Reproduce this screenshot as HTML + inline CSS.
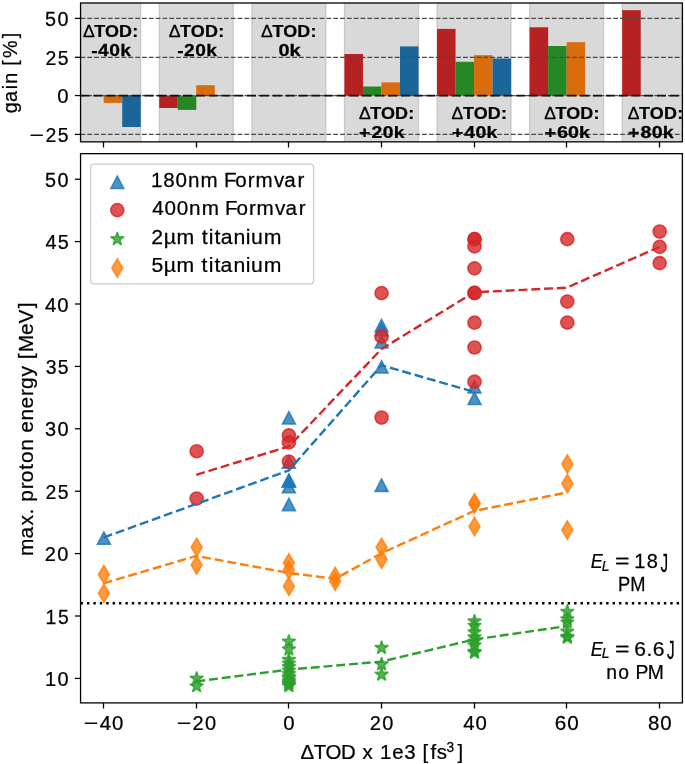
<!DOCTYPE html><html><head><meta charset="utf-8"><style>html,body{margin:0;padding:0;background:#fff;}svg{display:block;}text{font-family:"Liberation Sans",sans-serif;fill:#000;stroke:#000;stroke-width:0.25px;}text{filter:grayscale(1);}</style></head><body>
<svg width="685" height="764" viewBox="0 0 685 764">
<rect width="685" height="764" fill="#fff"/>
<defs><clipPath id="ct"><rect x="80.55" y="3.0" width="601.85" height="138.85"/></clipPath><clipPath id="cb"><rect x="80.55" y="153.66" width="601.85" height="549.24"/></clipPath></defs>
<g clip-path="url(#ct)">
<rect x="66.66" y="-5" width="74.07" height="160" fill="#808080" fill-opacity="0.3" stroke="#808080" stroke-opacity="0.3" stroke-width="1.3"/>
<rect x="159.25" y="-5" width="74.07" height="160" fill="#808080" fill-opacity="0.3" stroke="#808080" stroke-opacity="0.3" stroke-width="1.3"/>
<rect x="251.85" y="-5" width="74.07" height="160" fill="#808080" fill-opacity="0.3" stroke="#808080" stroke-opacity="0.3" stroke-width="1.3"/>
<rect x="344.44" y="-5" width="74.07" height="160" fill="#808080" fill-opacity="0.3" stroke="#808080" stroke-opacity="0.3" stroke-width="1.3"/>
<rect x="437.03" y="-5" width="74.07" height="160" fill="#808080" fill-opacity="0.3" stroke="#808080" stroke-opacity="0.3" stroke-width="1.3"/>
<rect x="529.62" y="-5" width="74.07" height="160" fill="#808080" fill-opacity="0.3" stroke="#808080" stroke-opacity="0.3" stroke-width="1.3"/>
<rect x="622.21" y="-5" width="74.07" height="160" fill="#808080" fill-opacity="0.3" stroke="#808080" stroke-opacity="0.3" stroke-width="1.3"/>
<rect x="103.70" y="95.55" width="18.52" height="7.35" fill="#d96c0c"/>
<rect x="122.22" y="95.55" width="18.52" height="31.45" fill="#1a6599"/>
<rect x="159.25" y="95.55" width="18.52" height="12.45" fill="#b62122"/>
<rect x="177.77" y="95.55" width="18.52" height="14.35" fill="#258825"/>
<rect x="196.29" y="85.20" width="18.52" height="10.35" fill="#d96c0c"/>
<rect x="344.44" y="54.00" width="18.52" height="41.55" fill="#b62122"/>
<rect x="362.96" y="86.50" width="18.52" height="9.05" fill="#258825"/>
<rect x="381.47" y="82.40" width="18.52" height="13.15" fill="#d96c0c"/>
<rect x="399.99" y="46.40" width="18.52" height="49.15" fill="#1a6599"/>
<rect x="437.03" y="28.90" width="18.52" height="66.65" fill="#b62122"/>
<rect x="455.55" y="61.80" width="18.52" height="33.75" fill="#258825"/>
<rect x="474.07" y="55.20" width="18.52" height="40.35" fill="#d96c0c"/>
<rect x="492.58" y="58.50" width="18.52" height="37.05" fill="#1a6599"/>
<rect x="529.62" y="27.30" width="18.52" height="68.25" fill="#b62122"/>
<rect x="548.14" y="46.00" width="18.52" height="49.55" fill="#258825"/>
<rect x="566.66" y="42.20" width="18.52" height="53.35" fill="#d96c0c"/>
<rect x="622.21" y="10.20" width="18.52" height="85.35" fill="#b62122"/>
<line x1="80.55" y1="18.4" x2="682.4" y2="18.4" stroke="#4a4a4a" stroke-width="1.29" stroke-dasharray="4.77 2.06"/>
<line x1="80.55" y1="57.3" x2="682.4" y2="57.3" stroke="#4a4a4a" stroke-width="1.29" stroke-dasharray="4.77 2.06"/>
<line x1="80.55" y1="95.55" x2="682.4" y2="95.55" stroke="#4a4a4a" stroke-width="1.29" stroke-dasharray="4.77 2.06"/>
<line x1="80.55" y1="134.4" x2="682.4" y2="134.4" stroke="#4a4a4a" stroke-width="1.29" stroke-dasharray="4.77 2.06"/>
<line x1="80.55" y1="95.55" x2="682.4" y2="95.55" stroke="#111" stroke-width="1.8" stroke-dasharray="8.94 3.87"/>
<text transform="translate(83.40 36.90) scale(1.0415 1.0000)" x="-0.50" y="0" font-size="16.88">Δ</text>
<text transform="translate(94.30 36.90) scale(1.0626 1.0000)" x="-0.10 10.04 23.24 35.70" y="0" font-size="16.88" font-weight="bold">TOD:</text>
<text transform="translate(92.10 55.70) scale(1.1422 1.0000)" x="-0.65 5.14 14.99 24.64" y="0" font-size="16.88" font-weight="bold">-40k</text>
<text transform="translate(169.30 36.90) scale(1.0415 1.0000)" x="-0.50" y="0" font-size="16.88">Δ</text>
<text transform="translate(180.20 36.90) scale(1.0626 1.0000)" x="-0.10 10.04 23.24 35.70" y="0" font-size="16.88" font-weight="bold">TOD:</text>
<text transform="translate(178.00 55.70) scale(1.1367 1.0000)" x="-0.64 5.27 15.09 24.78" y="0" font-size="16.88" font-weight="bold">-20k</text>
<text transform="translate(261.60 36.90) scale(1.0415 1.0000)" x="-0.50" y="0" font-size="16.88">Δ</text>
<text transform="translate(272.50 36.90) scale(1.0626 1.0000)" x="-0.10 10.04 23.24 35.70" y="0" font-size="16.88" font-weight="bold">TOD:</text>
<text transform="translate(279.30 55.70) scale(1.1815 1.0000)" x="-0.62 8.68" y="0" font-size="16.88" font-weight="bold">0k</text>
<text transform="translate(359.40 119.30) scale(1.0415 1.0000)" x="-0.50" y="0" font-size="16.88">Δ</text>
<text transform="translate(370.30 119.30) scale(1.0626 1.0000)" x="-0.10 10.04 23.24 35.70" y="0" font-size="16.88" font-weight="bold">TOD:</text>
<text transform="translate(359.70 137.70) scale(1.1477 1.0000)" x="-0.58 10.35 20.07 29.67" y="0" font-size="16.88" font-weight="bold">+20k</text>
<text transform="translate(452.10 119.30) scale(1.0415 1.0000)" x="-0.50" y="0" font-size="16.88">Δ</text>
<text transform="translate(463.00 119.30) scale(1.0626 1.0000)" x="-0.10 10.04 23.24 35.70" y="0" font-size="16.88" font-weight="bold">TOD:</text>
<text transform="translate(452.60 137.70) scale(1.1522 1.0000)" x="-0.59 10.21 19.98 29.53" y="0" font-size="16.88" font-weight="bold">+40k</text>
<text transform="translate(544.70 119.30) scale(1.0415 1.0000)" x="-0.50" y="0" font-size="16.88">Δ</text>
<text transform="translate(555.60 119.30) scale(1.0626 1.0000)" x="-0.10 10.04 23.24 35.70" y="0" font-size="16.88" font-weight="bold">TOD:</text>
<text transform="translate(545.20 137.70) scale(1.1710 1.0000)" x="-0.66 10.11 19.58 28.97" y="0" font-size="16.88" font-weight="bold">+60k</text>
<text transform="translate(628.30 119.30) scale(1.0415 1.0000)" x="-0.50" y="0" font-size="16.88">Δ</text>
<text transform="translate(639.20 119.30) scale(1.0626 1.0000)" x="-0.10 10.04 23.24 35.70" y="0" font-size="16.88" font-weight="bold">TOD:</text>
<text transform="translate(628.80 137.70) scale(1.1613 1.0000)" x="-0.63 10.17 19.78 29.26" y="0" font-size="16.88" font-weight="bold">+80k</text>
</g>
<rect x="80.55" y="3.0" width="601.85" height="138.85" fill="none" stroke="#000" stroke-width="1.29"/>
<line x1="74.91" y1="18.4" x2="80.55" y2="18.4" stroke="#000" stroke-width="1.29"/>
<text transform="translate(67.80 26.00) scale(0.9712 1.0000)" x="-23.43 -10.69" y="0" font-size="20.39">50</text>
<line x1="74.91" y1="57.3" x2="80.55" y2="57.3" stroke="#000" stroke-width="1.29"/>
<text transform="translate(67.80 64.90) scale(0.9528 1.0000)" x="-23.53 -10.44" y="0" font-size="20.39">25</text>
<line x1="74.91" y1="95.55" x2="80.55" y2="95.55" stroke="#000" stroke-width="1.29"/>
<text transform="translate(67.80 103.15) scale(0.9992 1.0000)" x="-10.55" y="0" font-size="20.39">0</text>
<line x1="74.91" y1="134.4" x2="80.55" y2="134.4" stroke="#000" stroke-width="1.29"/>
<text transform="translate(30.74 142.00) scale(1.2213 1.0000)" x="-1.01" y="0" font-size="20.39">−</text>
<text transform="translate(46.31 142.00) scale(0.9528 1.0000)" x="-0.98 12.12" y="0" font-size="20.39">25</text>
<line x1="103.50" y1="141.85" x2="103.50" y2="147.49" stroke="#000" stroke-width="1.29"/>
<line x1="196.50" y1="141.85" x2="196.50" y2="147.49" stroke="#000" stroke-width="1.29"/>
<line x1="288.50" y1="141.85" x2="288.50" y2="147.49" stroke="#000" stroke-width="1.29"/>
<line x1="381.50" y1="141.85" x2="381.50" y2="147.49" stroke="#000" stroke-width="1.29"/>
<line x1="474.50" y1="141.85" x2="474.50" y2="147.49" stroke="#000" stroke-width="1.29"/>
<line x1="566.50" y1="141.85" x2="566.50" y2="147.49" stroke="#000" stroke-width="1.29"/>
<line x1="659.50" y1="141.85" x2="659.50" y2="147.49" stroke="#000" stroke-width="1.29"/>
<text transform="translate(17.20 112.80) rotate(-90) scale(0.9694 1)" x="-0.57 11.26 24.29 30.01 41.96 48.59 56.48 76.84" y="0" font-size="20.39">gain [%]</text>
<g clip-path="url(#cb)">
<path d="M103.90 531.90L97.45 544.20L110.35 544.20Z" fill="#1f77b4" fill-opacity="0.8" stroke="#1f77b4" stroke-opacity="0.8" stroke-width="1.61"/>
<path d="M288.88 411.69L282.43 423.99L295.33 423.99Z" fill="#1f77b4" fill-opacity="0.8" stroke="#1f77b4" stroke-opacity="0.8" stroke-width="1.61"/>
<path d="M288.88 455.88L282.43 468.18L295.33 468.18Z" fill="#1f77b4" fill-opacity="0.8" stroke="#1f77b4" stroke-opacity="0.8" stroke-width="1.61"/>
<path d="M288.88 474.10L282.43 486.40L295.33 486.40Z" fill="#1f77b4" fill-opacity="0.8" stroke="#1f77b4" stroke-opacity="0.8" stroke-width="1.61"/>
<path d="M288.88 474.85L282.43 487.15L295.33 487.15Z" fill="#1f77b4" fill-opacity="0.8" stroke="#1f77b4" stroke-opacity="0.8" stroke-width="1.61"/>
<path d="M288.88 480.47L282.43 492.77L295.33 492.77Z" fill="#1f77b4" fill-opacity="0.8" stroke="#1f77b4" stroke-opacity="0.8" stroke-width="1.61"/>
<path d="M288.88 498.32L282.43 510.62L295.33 510.62Z" fill="#1f77b4" fill-opacity="0.8" stroke="#1f77b4" stroke-opacity="0.8" stroke-width="1.61"/>
<path d="M381.57 319.44L375.12 331.74L388.02 331.74Z" fill="#1f77b4" fill-opacity="0.8" stroke="#1f77b4" stroke-opacity="0.8" stroke-width="1.61"/>
<path d="M381.57 323.31L375.12 335.61L388.02 335.61Z" fill="#1f77b4" fill-opacity="0.8" stroke="#1f77b4" stroke-opacity="0.8" stroke-width="1.61"/>
<path d="M381.57 335.67L375.12 347.97L388.02 347.97Z" fill="#1f77b4" fill-opacity="0.8" stroke="#1f77b4" stroke-opacity="0.8" stroke-width="1.61"/>
<path d="M381.57 360.76L375.12 373.06L388.02 373.06Z" fill="#1f77b4" fill-opacity="0.8" stroke="#1f77b4" stroke-opacity="0.8" stroke-width="1.61"/>
<path d="M381.57 479.10L375.12 491.40L388.02 491.40Z" fill="#1f77b4" fill-opacity="0.8" stroke="#1f77b4" stroke-opacity="0.8" stroke-width="1.61"/>
<path d="M474.52 380.61L468.07 392.91L480.97 392.91Z" fill="#1f77b4" fill-opacity="0.8" stroke="#1f77b4" stroke-opacity="0.8" stroke-width="1.61"/>
<path d="M474.52 392.22L468.07 404.52L480.97 404.52Z" fill="#1f77b4" fill-opacity="0.8" stroke="#1f77b4" stroke-opacity="0.8" stroke-width="1.61"/>
<circle cx="196.64" cy="451.24" r="6.55" fill="#d62728" fill-opacity="0.8" stroke="#d62728" stroke-opacity="0.8" stroke-width="1.61"/>
<circle cx="196.64" cy="498.55" r="6.55" fill="#d62728" fill-opacity="0.8" stroke="#d62728" stroke-opacity="0.8" stroke-width="1.61"/>
<circle cx="288.88" cy="435.39" r="6.55" fill="#d62728" fill-opacity="0.8" stroke="#d62728" stroke-opacity="0.8" stroke-width="1.61"/>
<circle cx="288.88" cy="442.38" r="6.55" fill="#d62728" fill-opacity="0.8" stroke="#d62728" stroke-opacity="0.8" stroke-width="1.61"/>
<circle cx="288.88" cy="461.60" r="6.55" fill="#d62728" fill-opacity="0.8" stroke="#d62728" stroke-opacity="0.8" stroke-width="1.61"/>
<circle cx="381.57" cy="293.08" r="6.55" fill="#d62728" fill-opacity="0.8" stroke="#d62728" stroke-opacity="0.8" stroke-width="1.61"/>
<circle cx="381.57" cy="336.65" r="6.55" fill="#d62728" fill-opacity="0.8" stroke="#d62728" stroke-opacity="0.8" stroke-width="1.61"/>
<circle cx="381.57" cy="417.54" r="6.55" fill="#d62728" fill-opacity="0.8" stroke="#d62728" stroke-opacity="0.8" stroke-width="1.61"/>
<circle cx="474.52" cy="239.16" r="6.55" fill="#d62728" fill-opacity="0.8" stroke="#d62728" stroke-opacity="0.8" stroke-width="1.61"/>
<circle cx="474.52" cy="239.16" r="6.55" fill="#d62728" fill-opacity="0.8" stroke="#d62728" stroke-opacity="0.8" stroke-width="1.61"/>
<circle cx="474.52" cy="246.40" r="6.55" fill="#d62728" fill-opacity="0.8" stroke="#d62728" stroke-opacity="0.8" stroke-width="1.61"/>
<circle cx="474.52" cy="268.37" r="6.55" fill="#d62728" fill-opacity="0.8" stroke="#d62728" stroke-opacity="0.8" stroke-width="1.61"/>
<circle cx="474.52" cy="292.96" r="6.55" fill="#d62728" fill-opacity="0.8" stroke="#d62728" stroke-opacity="0.8" stroke-width="1.61"/>
<circle cx="474.52" cy="292.96" r="6.55" fill="#d62728" fill-opacity="0.8" stroke="#d62728" stroke-opacity="0.8" stroke-width="1.61"/>
<circle cx="474.52" cy="322.67" r="6.55" fill="#d62728" fill-opacity="0.8" stroke="#d62728" stroke-opacity="0.8" stroke-width="1.61"/>
<circle cx="474.52" cy="347.51" r="6.55" fill="#d62728" fill-opacity="0.8" stroke="#d62728" stroke-opacity="0.8" stroke-width="1.61"/>
<circle cx="474.52" cy="381.71" r="6.55" fill="#d62728" fill-opacity="0.8" stroke="#d62728" stroke-opacity="0.8" stroke-width="1.61"/>
<circle cx="567.31" cy="239.16" r="6.55" fill="#d62728" fill-opacity="0.8" stroke="#d62728" stroke-opacity="0.8" stroke-width="1.61"/>
<circle cx="567.31" cy="301.57" r="6.55" fill="#d62728" fill-opacity="0.8" stroke="#d62728" stroke-opacity="0.8" stroke-width="1.61"/>
<circle cx="567.31" cy="322.54" r="6.55" fill="#d62728" fill-opacity="0.8" stroke="#d62728" stroke-opacity="0.8" stroke-width="1.61"/>
<circle cx="659.65" cy="231.54" r="6.55" fill="#d62728" fill-opacity="0.8" stroke="#d62728" stroke-opacity="0.8" stroke-width="1.61"/>
<circle cx="659.65" cy="246.90" r="6.55" fill="#d62728" fill-opacity="0.8" stroke="#d62728" stroke-opacity="0.8" stroke-width="1.61"/>
<circle cx="659.65" cy="263.12" r="6.55" fill="#d62728" fill-opacity="0.8" stroke="#d62728" stroke-opacity="0.8" stroke-width="1.61"/>
<path d="M196.64 671.51L195.06 676.38L189.94 676.38L194.08 679.39L192.50 684.26L196.64 681.25L200.78 684.26L199.20 679.39L203.34 676.38L198.22 676.38Z" fill="#2ca02c" fill-opacity="0.8" stroke="#2ca02c" stroke-opacity="0.8" stroke-width="1.61" stroke-linejoin="bevel"/>
<path d="M196.64 679.12L195.06 683.99L189.94 683.99L194.08 687.00L192.50 691.88L196.64 688.87L200.78 691.88L199.20 687.00L203.34 683.99L198.22 683.99Z" fill="#2ca02c" fill-opacity="0.8" stroke="#2ca02c" stroke-opacity="0.8" stroke-width="1.61" stroke-linejoin="bevel"/>
<path d="M288.88 634.43L287.30 639.31L282.18 639.31L286.32 642.32L284.74 647.19L288.88 644.18L293.03 647.19L291.44 642.32L295.59 639.31L290.46 639.31Z" fill="#2ca02c" fill-opacity="0.8" stroke="#2ca02c" stroke-opacity="0.8" stroke-width="1.61" stroke-linejoin="bevel"/>
<path d="M288.88 642.30L287.30 647.17L282.18 647.17L286.32 650.18L284.74 655.05L288.88 652.04L293.03 655.05L291.44 650.18L295.59 647.17L290.46 647.17Z" fill="#2ca02c" fill-opacity="0.8" stroke="#2ca02c" stroke-opacity="0.8" stroke-width="1.61" stroke-linejoin="bevel"/>
<path d="M288.88 652.66L287.30 657.53L282.18 657.53L286.32 660.54L284.74 665.41L288.88 662.40L293.03 665.41L291.44 660.54L295.59 657.53L290.46 657.53Z" fill="#2ca02c" fill-opacity="0.8" stroke="#2ca02c" stroke-opacity="0.8" stroke-width="1.61" stroke-linejoin="bevel"/>
<path d="M288.88 656.53L287.30 661.40L282.18 661.40L286.32 664.41L284.74 669.28L288.88 666.27L293.03 669.28L291.44 664.41L295.59 661.40L290.46 661.40Z" fill="#2ca02c" fill-opacity="0.8" stroke="#2ca02c" stroke-opacity="0.8" stroke-width="1.61" stroke-linejoin="bevel"/>
<path d="M288.88 659.90L287.30 664.77L282.18 664.77L286.32 667.78L284.74 672.65L288.88 669.64L293.03 672.65L291.44 667.78L295.59 664.77L290.46 664.77Z" fill="#2ca02c" fill-opacity="0.8" stroke="#2ca02c" stroke-opacity="0.8" stroke-width="1.61" stroke-linejoin="bevel"/>
<path d="M288.88 663.39L287.30 668.27L282.18 668.27L286.32 671.28L284.74 676.15L288.88 673.14L293.03 676.15L291.44 671.28L295.59 668.27L290.46 668.27Z" fill="#2ca02c" fill-opacity="0.8" stroke="#2ca02c" stroke-opacity="0.8" stroke-width="1.61" stroke-linejoin="bevel"/>
<path d="M288.88 666.76L287.30 671.64L282.18 671.64L286.32 674.65L284.74 679.52L288.88 676.51L293.03 679.52L291.44 674.65L295.59 671.64L290.46 671.64Z" fill="#2ca02c" fill-opacity="0.8" stroke="#2ca02c" stroke-opacity="0.8" stroke-width="1.61" stroke-linejoin="bevel"/>
<path d="M288.88 669.64L287.30 674.51L282.18 674.51L286.32 677.52L284.74 682.39L288.88 679.38L293.03 682.39L291.44 677.52L295.59 674.51L290.46 674.51Z" fill="#2ca02c" fill-opacity="0.8" stroke="#2ca02c" stroke-opacity="0.8" stroke-width="1.61" stroke-linejoin="bevel"/>
<path d="M288.88 671.51L287.30 676.38L282.18 676.38L286.32 679.39L284.74 684.26L288.88 681.25L293.03 684.26L291.44 679.39L295.59 676.38L290.46 676.38Z" fill="#2ca02c" fill-opacity="0.8" stroke="#2ca02c" stroke-opacity="0.8" stroke-width="1.61" stroke-linejoin="bevel"/>
<path d="M288.88 674.00L287.30 678.88L282.18 678.88L286.32 681.89L284.74 686.76L288.88 683.75L293.03 686.76L291.44 681.89L295.59 678.88L290.46 678.88Z" fill="#2ca02c" fill-opacity="0.8" stroke="#2ca02c" stroke-opacity="0.8" stroke-width="1.61" stroke-linejoin="bevel"/>
<path d="M288.88 675.63L287.30 680.50L282.18 680.50L286.32 683.51L284.74 688.38L288.88 685.37L293.03 688.38L291.44 683.51L295.59 680.50L290.46 680.50Z" fill="#2ca02c" fill-opacity="0.8" stroke="#2ca02c" stroke-opacity="0.8" stroke-width="1.61" stroke-linejoin="bevel"/>
<path d="M288.88 677.13L287.30 682.00L282.18 682.00L286.32 685.01L284.74 689.88L288.88 686.87L293.03 689.88L291.44 685.01L295.59 682.00L290.46 682.00Z" fill="#2ca02c" fill-opacity="0.8" stroke="#2ca02c" stroke-opacity="0.8" stroke-width="1.61" stroke-linejoin="bevel"/>
<path d="M288.88 679.00L287.30 683.87L282.18 683.87L286.32 686.88L284.74 691.75L288.88 688.74L293.03 691.75L291.44 686.88L295.59 683.87L290.46 683.87Z" fill="#2ca02c" fill-opacity="0.8" stroke="#2ca02c" stroke-opacity="0.8" stroke-width="1.61" stroke-linejoin="bevel"/>
<path d="M381.57 640.80L379.99 645.67L374.87 645.67L379.01 648.68L377.43 653.55L381.57 650.54L385.72 653.55L384.14 648.68L388.28 645.67L383.16 645.67Z" fill="#2ca02c" fill-opacity="0.8" stroke="#2ca02c" stroke-opacity="0.8" stroke-width="1.61" stroke-linejoin="bevel"/>
<path d="M381.57 657.28L379.99 662.15L374.87 662.15L379.01 665.16L377.43 670.03L381.57 667.02L385.72 670.03L384.14 665.16L388.28 662.15L383.16 662.15Z" fill="#2ca02c" fill-opacity="0.8" stroke="#2ca02c" stroke-opacity="0.8" stroke-width="1.61" stroke-linejoin="bevel"/>
<path d="M381.57 667.51L379.99 672.39L374.87 672.39L379.01 675.40L377.43 680.27L381.57 677.26L385.72 680.27L384.14 675.40L388.28 672.39L383.16 672.39Z" fill="#2ca02c" fill-opacity="0.8" stroke="#2ca02c" stroke-opacity="0.8" stroke-width="1.61" stroke-linejoin="bevel"/>
<path d="M474.52 614.21L472.93 619.08L467.81 619.08L471.95 622.09L470.37 626.96L474.52 623.95L478.66 626.96L477.08 622.09L481.22 619.08L476.10 619.08Z" fill="#2ca02c" fill-opacity="0.8" stroke="#2ca02c" stroke-opacity="0.8" stroke-width="1.61" stroke-linejoin="bevel"/>
<path d="M474.52 618.58L472.93 623.45L467.81 623.45L471.95 626.46L470.37 631.33L474.52 628.32L478.66 631.33L477.08 626.46L481.22 623.45L476.10 623.45Z" fill="#2ca02c" fill-opacity="0.8" stroke="#2ca02c" stroke-opacity="0.8" stroke-width="1.61" stroke-linejoin="bevel"/>
<path d="M474.52 625.20L472.93 630.07L467.81 630.07L471.95 633.08L470.37 637.95L474.52 634.94L478.66 637.95L477.08 633.08L481.22 630.07L476.10 630.07Z" fill="#2ca02c" fill-opacity="0.8" stroke="#2ca02c" stroke-opacity="0.8" stroke-width="1.61" stroke-linejoin="bevel"/>
<path d="M474.52 630.19L472.93 635.06L467.81 635.06L471.95 638.07L470.37 642.94L474.52 639.93L478.66 642.94L477.08 638.07L481.22 635.06L476.10 635.06Z" fill="#2ca02c" fill-opacity="0.8" stroke="#2ca02c" stroke-opacity="0.8" stroke-width="1.61" stroke-linejoin="bevel"/>
<path d="M474.52 634.31L472.93 639.18L467.81 639.18L471.95 642.19L470.37 647.06L474.52 644.05L478.66 647.06L477.08 642.19L481.22 639.18L476.10 639.18Z" fill="#2ca02c" fill-opacity="0.8" stroke="#2ca02c" stroke-opacity="0.8" stroke-width="1.61" stroke-linejoin="bevel"/>
<path d="M474.52 638.18L472.93 643.05L467.81 643.05L471.95 646.06L470.37 650.93L474.52 647.92L478.66 650.93L477.08 646.06L481.22 643.05L476.10 643.05Z" fill="#2ca02c" fill-opacity="0.8" stroke="#2ca02c" stroke-opacity="0.8" stroke-width="1.61" stroke-linejoin="bevel"/>
<path d="M474.52 644.67L472.93 649.54L467.81 649.54L471.95 652.55L470.37 657.42L474.52 654.41L478.66 657.42L477.08 652.55L481.22 649.54L476.10 649.54Z" fill="#2ca02c" fill-opacity="0.8" stroke="#2ca02c" stroke-opacity="0.8" stroke-width="1.61" stroke-linejoin="bevel"/>
<path d="M474.52 645.67L472.93 650.54L467.81 650.54L471.95 653.55L470.37 658.42L474.52 655.41L478.66 658.42L477.08 653.55L481.22 650.54L476.10 650.54Z" fill="#2ca02c" fill-opacity="0.8" stroke="#2ca02c" stroke-opacity="0.8" stroke-width="1.61" stroke-linejoin="bevel"/>
<path d="M567.31 604.60L565.73 609.47L560.60 609.47L564.75 612.48L563.16 617.35L567.31 614.34L571.45 617.35L569.87 612.48L574.01 609.47L568.89 609.47Z" fill="#2ca02c" fill-opacity="0.8" stroke="#2ca02c" stroke-opacity="0.8" stroke-width="1.61" stroke-linejoin="bevel"/>
<path d="M567.31 612.09L565.73 616.96L560.60 616.96L564.75 619.97L563.16 624.84L567.31 621.83L571.45 624.84L569.87 619.97L574.01 616.96L568.89 616.96Z" fill="#2ca02c" fill-opacity="0.8" stroke="#2ca02c" stroke-opacity="0.8" stroke-width="1.61" stroke-linejoin="bevel"/>
<path d="M567.31 615.33L565.73 620.21L560.60 620.21L564.75 623.22L563.16 628.09L567.31 625.08L571.45 628.09L569.87 623.22L574.01 620.21L568.89 620.21Z" fill="#2ca02c" fill-opacity="0.8" stroke="#2ca02c" stroke-opacity="0.8" stroke-width="1.61" stroke-linejoin="bevel"/>
<path d="M567.31 624.45L565.73 629.32L560.60 629.32L564.75 632.33L563.16 637.20L567.31 634.19L571.45 637.20L569.87 632.33L574.01 629.32L568.89 629.32Z" fill="#2ca02c" fill-opacity="0.8" stroke="#2ca02c" stroke-opacity="0.8" stroke-width="1.61" stroke-linejoin="bevel"/>
<path d="M567.31 629.69L565.73 634.56L560.60 634.56L564.75 637.57L563.16 642.44L567.31 639.43L571.45 642.44L569.87 637.57L574.01 634.56L568.89 634.56Z" fill="#2ca02c" fill-opacity="0.8" stroke="#2ca02c" stroke-opacity="0.8" stroke-width="1.61" stroke-linejoin="bevel"/>
<path d="M567.31 630.69L565.73 635.56L560.60 635.56L564.75 638.57L563.16 643.44L567.31 640.43L571.45 643.44L569.87 638.57L574.01 635.56L568.89 635.56Z" fill="#2ca02c" fill-opacity="0.8" stroke="#2ca02c" stroke-opacity="0.8" stroke-width="1.61" stroke-linejoin="bevel"/>
<path d="M103.90 565.33L109.37 574.45L103.90 583.57L98.43 574.45Z" fill="#ff7f0e" fill-opacity="0.8" stroke="#ff7f0e" stroke-opacity="0.8" stroke-width="1.61"/>
<path d="M103.90 584.18L109.37 593.30L103.90 602.42L98.43 593.30Z" fill="#ff7f0e" fill-opacity="0.8" stroke="#ff7f0e" stroke-opacity="0.8" stroke-width="1.61"/>
<path d="M196.64 538.24L202.11 547.36L196.64 556.48L191.17 547.36Z" fill="#ff7f0e" fill-opacity="0.8" stroke="#ff7f0e" stroke-opacity="0.8" stroke-width="1.61"/>
<path d="M196.64 555.84L202.11 564.96L196.64 574.08L191.17 564.96Z" fill="#ff7f0e" fill-opacity="0.8" stroke="#ff7f0e" stroke-opacity="0.8" stroke-width="1.61"/>
<path d="M288.88 553.72L294.35 562.84L288.88 571.96L283.41 562.84Z" fill="#ff7f0e" fill-opacity="0.8" stroke="#ff7f0e" stroke-opacity="0.8" stroke-width="1.61"/>
<path d="M288.88 560.58L294.35 569.71L288.88 578.83L283.41 569.71Z" fill="#ff7f0e" fill-opacity="0.8" stroke="#ff7f0e" stroke-opacity="0.8" stroke-width="1.61"/>
<path d="M288.88 577.19L294.35 586.31L288.88 595.43L283.41 586.31Z" fill="#ff7f0e" fill-opacity="0.8" stroke="#ff7f0e" stroke-opacity="0.8" stroke-width="1.61"/>
<path d="M335.18 567.33L340.65 576.45L335.18 585.57L329.71 576.45Z" fill="#ff7f0e" fill-opacity="0.8" stroke="#ff7f0e" stroke-opacity="0.8" stroke-width="1.61"/>
<path d="M335.18 572.07L340.65 581.19L335.18 590.31L329.71 581.19Z" fill="#ff7f0e" fill-opacity="0.8" stroke="#ff7f0e" stroke-opacity="0.8" stroke-width="1.61"/>
<path d="M381.57 538.24L387.05 547.36L381.57 556.48L376.10 547.36Z" fill="#ff7f0e" fill-opacity="0.8" stroke="#ff7f0e" stroke-opacity="0.8" stroke-width="1.61"/>
<path d="M381.57 550.10L387.05 559.22L381.57 568.34L376.10 559.22Z" fill="#ff7f0e" fill-opacity="0.8" stroke="#ff7f0e" stroke-opacity="0.8" stroke-width="1.61"/>
<path d="M474.52 493.55L479.99 502.67L474.52 511.79L469.04 502.67Z" fill="#ff7f0e" fill-opacity="0.8" stroke="#ff7f0e" stroke-opacity="0.8" stroke-width="1.61"/>
<path d="M474.52 494.80L479.99 503.92L474.52 513.04L469.04 503.92Z" fill="#ff7f0e" fill-opacity="0.8" stroke="#ff7f0e" stroke-opacity="0.8" stroke-width="1.61"/>
<path d="M474.52 517.39L479.99 526.52L474.52 535.64L469.04 526.52Z" fill="#ff7f0e" fill-opacity="0.8" stroke="#ff7f0e" stroke-opacity="0.8" stroke-width="1.61"/>
<path d="M567.31 454.85L572.78 463.98L567.31 473.10L561.84 463.98Z" fill="#ff7f0e" fill-opacity="0.8" stroke="#ff7f0e" stroke-opacity="0.8" stroke-width="1.61"/>
<path d="M567.31 474.45L572.78 483.57L567.31 492.70L561.84 483.57Z" fill="#ff7f0e" fill-opacity="0.8" stroke="#ff7f0e" stroke-opacity="0.8" stroke-width="1.61"/>
<path d="M567.31 520.89L572.78 530.01L567.31 539.13L561.84 530.01Z" fill="#ff7f0e" fill-opacity="0.8" stroke="#ff7f0e" stroke-opacity="0.8" stroke-width="1.61"/>
<path d="M103.70 537.50L288.88 470.40L381.47 365.30L474.07 391.80" fill="none" stroke="#1f77b4" stroke-width="2.42" stroke-dasharray="8.94 3.87" stroke-linejoin="round"/>
<path d="M196.29 474.80L288.88 446.40L381.47 349.00L474.07 292.30L566.66 287.70L659.25 247.00" fill="none" stroke="#d62728" stroke-width="2.42" stroke-dasharray="8.94 3.87" stroke-linejoin="round"/>
<path d="M196.29 681.40L288.88 669.60L381.47 661.60L474.07 639.50L566.66 626.10" fill="none" stroke="#2ca02c" stroke-width="2.42" stroke-dasharray="8.94 3.87" stroke-linejoin="round"/>
<path d="M103.70 583.30L196.29 555.90L288.88 573.00L335.18 578.80L381.47 553.30L474.07 511.00L566.66 492.50" fill="none" stroke="#ff7f0e" stroke-width="2.42" stroke-dasharray="8.94 3.87" stroke-linejoin="round"/>
<line x1="80.55" y1="603.2" x2="682.4" y2="603.2" stroke="#000" stroke-width="2.42" stroke-dasharray="2.42 3.99"/>
</g>
<rect x="90.65" y="164.2" width="222.95" height="119.60" rx="3" ry="3" fill="#fff" fill-opacity="0.8" stroke="#cccccc" stroke-width="1.29"/>
<path d="M117.30 176.15L110.85 188.45L123.75 188.45Z" fill="#1f77b4" fill-opacity="0.8" stroke="#1f77b4" stroke-opacity="0.8" stroke-width="1.61"/>
<text transform="translate(152.70 186.90) scale(1.0107 1.0000)" x="-1.80 10.48 22.64 34.83 47.40 65.16 70.46 81.74 94.15 101.65 119.97 130.19 143.35" y="0" font-size="20.39">180nm Formvar</text>
<circle cx="117.30" cy="210.10" r="6.55" fill="#d62728" fill-opacity="0.8" stroke="#d62728" stroke-opacity="0.8" stroke-width="1.61"/>
<text transform="translate(152.70 215.40) scale(1.0130 1.0000)" x="-0.54 11.60 23.74 35.91 48.43 66.17 71.45 82.70 95.09 102.57 120.85 131.04 144.17" y="0" font-size="20.39">400nm Formvar</text>
<path d="M117.30 232.05L115.72 236.92L110.60 236.92L114.74 239.93L113.16 244.80L117.30 241.79L121.44 244.80L119.86 239.93L124.00 236.92L118.88 236.92Z" fill="#2ca02c" fill-opacity="0.8" stroke="#2ca02c" stroke-opacity="0.8" stroke-width="1.61" stroke-linejoin="bevel"/>
<text transform="translate(152.70 243.90) scale(1.0418 1.0000)" x="-1.38 10.57 22.84 40.33 46.98 53.82 59.41 65.23 77.55 89.38 94.39 106.57" y="0" font-size="20.39">2µm titanium</text>
<path d="M117.30 258.88L122.77 268.00L117.30 277.12L111.83 268.00Z" fill="#ff7f0e" fill-opacity="0.8" stroke="#ff7f0e" stroke-opacity="0.8" stroke-width="1.61"/>
<text transform="translate(152.70 272.40) scale(1.0393 1.0000)" x="-1.26 10.54 22.85 40.35 47.02 53.88 59.48 65.32 77.68 89.53 94.55 106.77" y="0" font-size="20.39">5µm titanium</text>
<text transform="translate(591.30 568.00) scale(0.8855 1.0000)" x="-0.63" y="0" font-size="20.39" font-style="italic">E</text>
<text transform="translate(602.10 570.60) scale(0.9783 1.0000)" x="-0.44" y="0" font-size="14.28" font-style="italic">L</text>
<text transform="translate(616.30 568.00) scale(1.2213 1.0000)" x="-1.00" y="0" font-size="20.39">=</text>
<text transform="translate(636.00 568.00) scale(0.9833 1.0000)" x="-1.68 10.92" y="0" font-size="20.39">18</text>
<text transform="translate(660.60 571.60) scale(0.7467 1.2740)" x="-0.25" y="0" font-size="20.39">J</text>
<text transform="translate(619.80 591.20) scale(0.8978 1.0000)" x="-2.03 11.67" y="0" font-size="20.39">PM</text>
<text transform="translate(591.30 655.80) scale(0.8855 1.0000)" x="-0.63" y="0" font-size="20.39" font-style="italic">E</text>
<text transform="translate(602.10 658.40) scale(0.9783 1.0000)" x="-0.44" y="0" font-size="14.28" font-style="italic">L</text>
<text transform="translate(616.30 655.80) scale(1.2213 1.0000)" x="-1.00" y="0" font-size="20.39">=</text>
<text transform="translate(635.30 655.80) scale(1.0333 1.0000)" x="-1.03 10.73 16.82" y="0" font-size="20.39">6.6</text>
<text transform="translate(667.20 659.40) scale(0.7467 1.2740)" x="-0.25" y="0" font-size="20.39">J</text>
<text transform="translate(607.30 678.80) scale(0.9476 1.0000)" x="-1.01 11.65 23.56 29.74 42.65" y="0" font-size="20.39">no PM</text>
<rect x="80.55" y="153.66" width="601.85" height="549.24" fill="none" stroke="#000" stroke-width="1.29"/>
<line x1="74.91" y1="678.40" x2="80.55" y2="678.40" stroke="#000" stroke-width="1.29"/>
<text transform="translate(67.80 686.00) scale(0.9779 1.0000)" x="-23.33 -10.65" y="0" font-size="20.39">10</text>
<line x1="74.91" y1="616.00" x2="80.55" y2="616.00" stroke="#000" stroke-width="1.29"/>
<text transform="translate(67.80 623.60) scale(0.9484 1.0000)" x="-23.44 -10.46" y="0" font-size="20.39">15</text>
<line x1="74.91" y1="553.60" x2="80.55" y2="553.60" stroke="#000" stroke-width="1.29"/>
<text transform="translate(67.80 561.20) scale(0.9816 1.0000)" x="-23.42 -10.63" y="0" font-size="20.39">20</text>
<line x1="74.91" y1="491.20" x2="80.55" y2="491.20" stroke="#000" stroke-width="1.29"/>
<text transform="translate(67.80 498.80) scale(0.9528 1.0000)" x="-23.53 -10.44" y="0" font-size="20.39">25</text>
<line x1="74.91" y1="428.80" x2="80.55" y2="428.80" stroke="#000" stroke-width="1.29"/>
<text transform="translate(67.80 436.40) scale(0.9795 1.0000)" x="-23.17 -10.64" y="0" font-size="20.39">30</text>
<line x1="74.91" y1="366.40" x2="80.55" y2="366.40" stroke="#000" stroke-width="1.29"/>
<text transform="translate(67.80 374.00) scale(0.9513 1.0000)" x="-23.27 -10.44" y="0" font-size="20.39">35</text>
<line x1="74.91" y1="304.00" x2="80.55" y2="304.00" stroke="#000" stroke-width="1.29"/>
<text transform="translate(67.80 311.60) scale(0.9992 1.0000)" x="-22.85 -10.54" y="0" font-size="20.39">40</text>
<line x1="74.91" y1="241.60" x2="80.55" y2="241.60" stroke="#000" stroke-width="1.29"/>
<text transform="translate(67.80 249.20) scale(0.9720 1.0000)" x="-22.92 -10.34" y="0" font-size="20.39">45</text>
<line x1="74.91" y1="179.20" x2="80.55" y2="179.20" stroke="#000" stroke-width="1.29"/>
<text transform="translate(67.80 186.80) scale(0.9712 1.0000)" x="-23.43 -10.69" y="0" font-size="20.39">50</text>
<line x1="103.50" y1="702.9" x2="103.50" y2="708.54" stroke="#000" stroke-width="1.29"/>
<text transform="translate(85.07 729.90) scale(1.2213 1.0000)" x="-1.01" y="0" font-size="20.39">−</text>
<text transform="translate(100.16 729.90) scale(0.9992 1.0000)" x="-0.47 11.84" y="0" font-size="20.39">40</text>
<line x1="196.50" y1="702.9" x2="196.50" y2="708.54" stroke="#000" stroke-width="1.29"/>
<text transform="translate(178.07 729.90) scale(1.2213 1.0000)" x="-1.01" y="0" font-size="20.39">−</text>
<text transform="translate(193.63 729.90) scale(0.9816 1.0000)" x="-1.11 11.68" y="0" font-size="20.39">20</text>
<line x1="288.50" y1="702.9" x2="288.50" y2="708.54" stroke="#000" stroke-width="1.29"/>
<text transform="translate(288.80 729.90) scale(0.9992 1.0000)" x="-5.67" y="0" font-size="20.39">0</text>
<line x1="381.50" y1="702.9" x2="381.50" y2="708.54" stroke="#000" stroke-width="1.29"/>
<text transform="translate(381.80 729.90) scale(0.9816 1.0000)" x="-12.27 0.52" y="0" font-size="20.39">20</text>
<line x1="474.50" y1="702.9" x2="474.50" y2="708.54" stroke="#000" stroke-width="1.29"/>
<text transform="translate(474.80 729.90) scale(0.9992 1.0000)" x="-11.66 0.65" y="0" font-size="20.39">40</text>
<line x1="566.50" y1="702.9" x2="566.50" y2="708.54" stroke="#000" stroke-width="1.29"/>
<text transform="translate(566.80 729.90) scale(1.0163 1.0000)" x="-11.76 0.34" y="0" font-size="20.39">60</text>
<line x1="659.50" y1="702.9" x2="659.50" y2="708.54" stroke="#000" stroke-width="1.29"/>
<text transform="translate(659.80 729.90) scale(1.0045 1.0000)" x="-11.81 0.43" y="0" font-size="20.39">80</text>
<text transform="translate(33.10 554.90) rotate(-90) scale(1.0239 1)" x="-0.96 16.07 28.69 39.58 45.42 51.85 64.24 70.86 83.12 89.81 101.61 113.22 119.39 131.19 142.98 155.25 162.06 174.31 185.00 191.10 198.02 214.83 225.92 240.79" y="0" font-size="20.39">max. proton energy [MeV]</text>
<text transform="translate(300.90 759.00) scale(1.0018 1.0000)" x="-0.36 12.72 24.50 40.12 54.88 61.58 72.43 78.92 91.15 103.20 114.99 121.30 129.46 135.51" y="0" font-size="20.39">ΔTOD x 1e3 [fs</text>
<text transform="translate(447.00 751.60) scale(0.9596 1.0000)" x="-0.54" y="0" font-size="14.28">3</text>
<text transform="translate(457.60 759.00) scale(0.9875 1.0000)" x="-0.16" y="0" font-size="20.39">]</text>
</svg></body></html>
